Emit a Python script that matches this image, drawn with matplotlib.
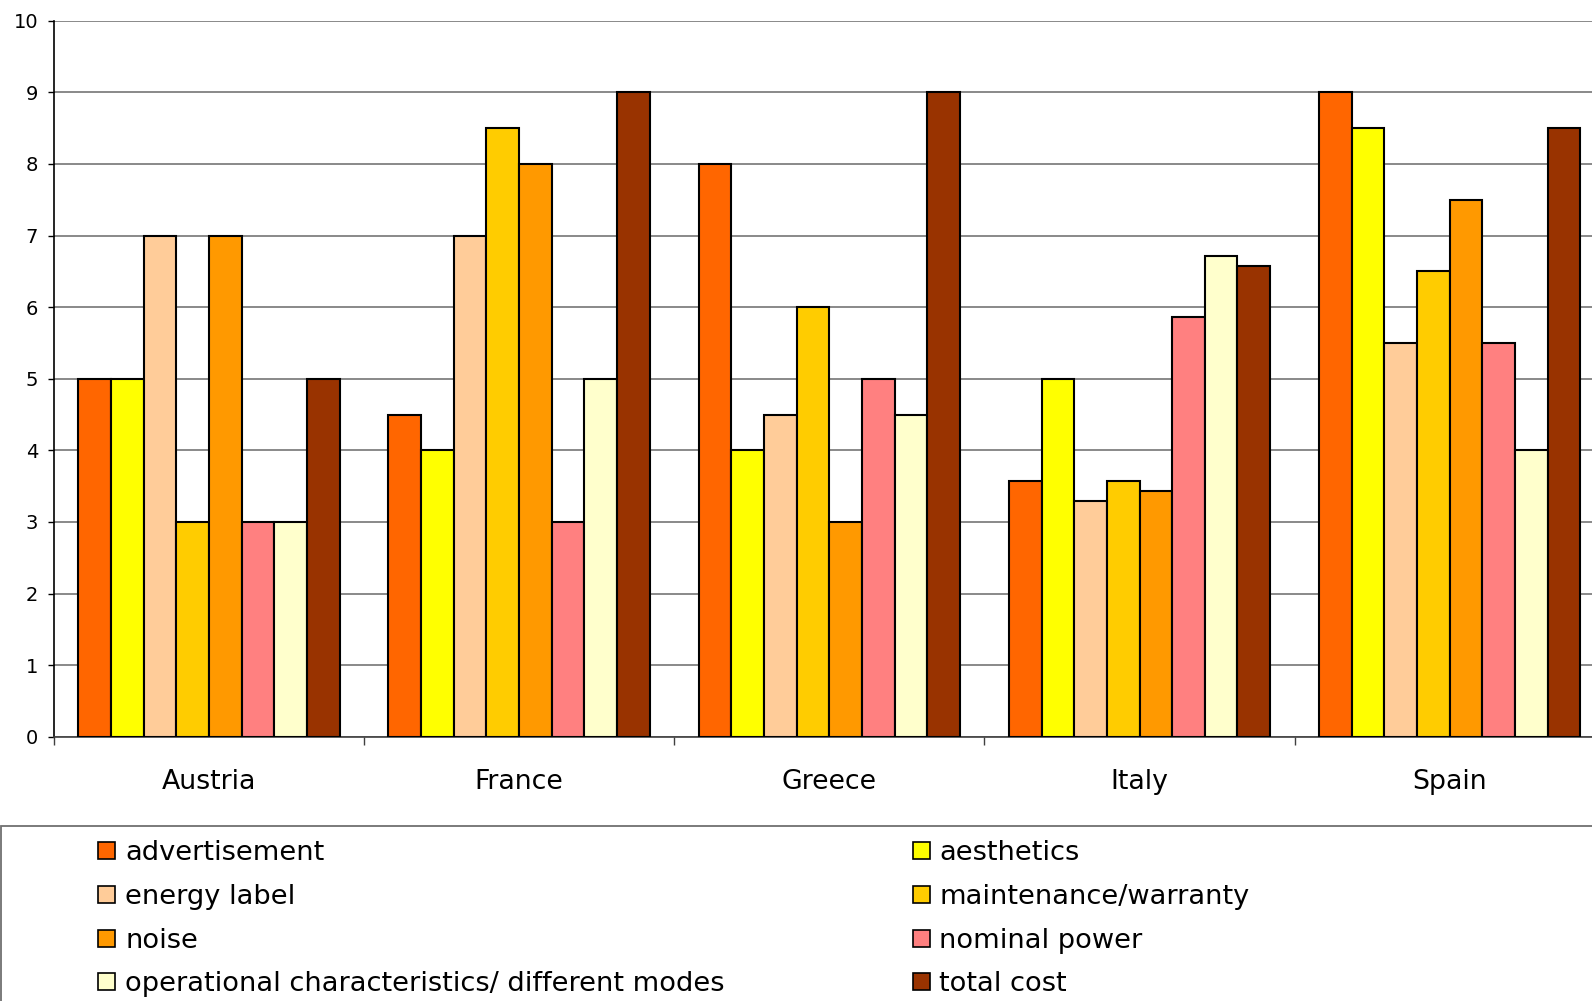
import matplotlib
matplotlib.use("Agg")
import matplotlib.pyplot as plt
from matplotlib.patches import Rectangle
import numpy as np

countries = ["Austria", "France", "Greece", "Italy", "Spain"]
series_names = [
    "advertisement", "aesthetics", "energy label", "maintenance/warranty",
    "noise", "nominal power", "operational characteristics/ different modes",
    "total cost",
]
advertisement = [5, 4.5, 8, 3.57, 9]
aesthetics = [5, 4, 4, 5, 8.5]
energy_label = [7, 7, 4.5, 3.29, 5.5]
maintenance_warranty = [3, 8.5, 6, 3.57, 6.5]
noise = [7, 8, 3, 3.43, 7.5]
nominal_power = [3, 3, 5, 5.86, 5.5]
operational_modes = [3, 5, 4.5, 6.71, 4]
total_cost = [5, 9, 9, 6.57, 8.5]
series_values = [advertisement, aesthetics, energy_label, maintenance_warranty,
                 noise, nominal_power, operational_modes, total_cost]
colors = ["#FF6600", "#FFFF00", "#FFCC99", "#FFCC00",
          "#FF9900", "#FF8080", "#FFFFCC", "#993300"]
y_ticks = list(range(0, 11))

W, H = 1592, 1001
fig = plt.figure(figsize=(W / 100, H / 100), dpi=100)


def fx(px):
    return px / W


def fy(py):
    return (H - py) / H


# plot area: x from 53.8 px, one category every 310.2 px (clipped on the right)
left_px, cat_px = 53.8, 310.2
top_px, bottom_px = 20.7, 736.7
ax = fig.add_axes([fx(left_px), fy(bottom_px),
                   fx(cat_px * len(countries)), (bottom_px - top_px) / H])
ax.set_xlim(0, len(countries))
ax.set_ylim(0, 10)

n = len(series_names)
bar_w = 1 / (n + 1.5)
x = np.arange(len(countries)) + 0.5
for j, (vals, c) in enumerate(zip(series_values, colors)):
    ax.bar(x + (j - (n - 1) / 2) * bar_w, vals, width=bar_w, color=c,
           edgecolor="black", linewidth=1.5, zorder=3)

ax.set_yticks(y_ticks)
ax.set_yticklabels([str(t) for t in y_ticks], fontsize=14)
ax.yaxis.grid(True, color="#808080", linewidth=1.3, zorder=0)
ax.tick_params(axis="y", length=4.2, width=1, pad=7, color="black")

ax.set_xticks(np.arange(len(countries) + 1))
ax.set_xticklabels([])
ax.set_xticks(x, minor=True)
ax.set_xticklabels(countries, minor=True, fontsize=19.3)
ax.tick_params(axis="x", which="major", length=6, width=1, color="#404040")
ax.tick_params(axis="x", which="minor", length=0, pad=23)

for s in ["top", "right"]:
    ax.spines[s].set_visible(False)
ax.spines["left"].set_color("black")
ax.spines["left"].set_linewidth(1.2)
ax.spines["bottom"].set_color("#404040")
ax.spines["bottom"].set_linewidth(1.2)
ax.set_axisbelow(True)

# legend frame
fig.patches.append(Rectangle((fx(0.5), fy(1010)), fx(1700), (1010 - 826) / H,
                             transform=fig.transFigure, facecolor="white",
                             edgecolor="#707070", linewidth=1.3, zorder=1))

# legend entries, two per row
row_y = [850, 894.5, 938, 981]
col_marker_x = [97.7, 912.7]
col_text_x = [125, 939.3]
for i, (name, c) in enumerate(zip(series_names, colors)):
    r, col = divmod(i, 2)
    cy = row_y[r]
    fig.patches.append(Rectangle((fx(col_marker_x[col]), fy(cy + 8.5)),
                                 fx(17.5), 17 / H, transform=fig.transFigure,
                                 facecolor=c, edgecolor="black",
                                 linewidth=1.2, zorder=2))
    fig.text(fx(col_text_x[col]), fy(cy), name, fontsize=19.6,
             va="center_baseline", ha="left", zorder=3)

fig.savefig("out.png", dpi=100)
